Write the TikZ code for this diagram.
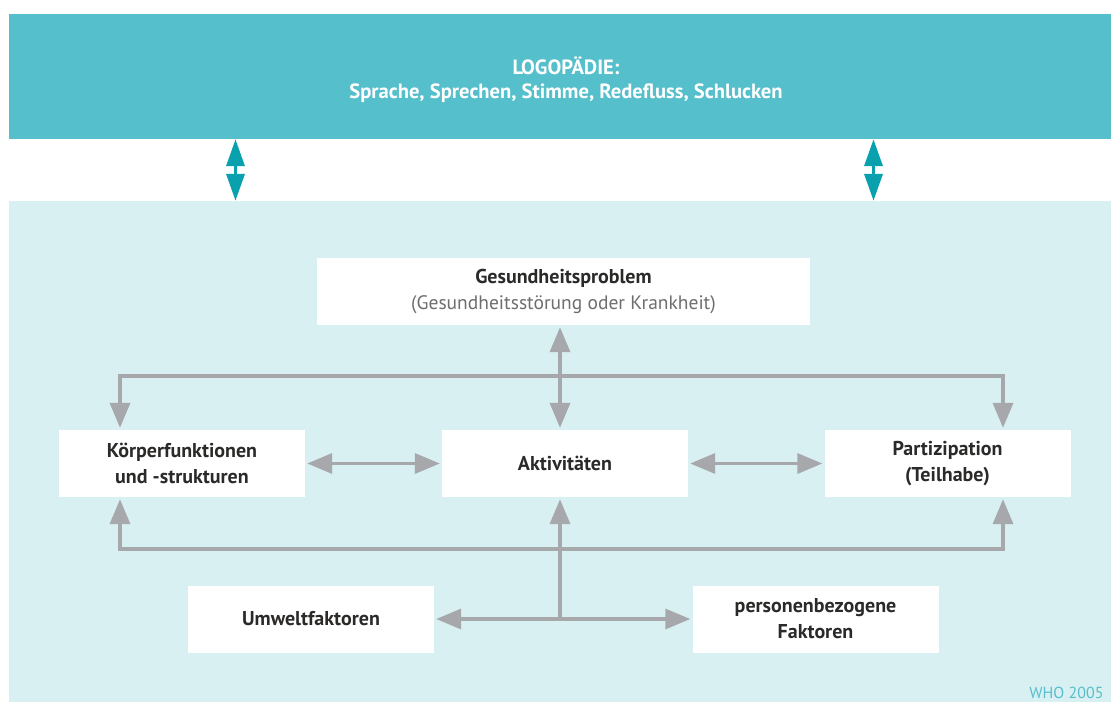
\documentclass[tikz,border=0pt]{standalone}
\usepackage{fontspec}
\setmainfont{PT Sans}
\usetikzlibrary{arrows.meta}
\definecolor{tealband}{HTML}{55BFCB}
\definecolor{lightband}{HTML}{D9F0F2}
\definecolor{tealarrow}{HTML}{0AA1AE}
\definecolor{conngray}{HTML}{A7A8AC}
\definecolor{darktext}{HTML}{2B2A29}
\definecolor{subgray}{HTML}{6D6E70}
\definecolor{whocol}{HTML}{55BFCB}
\begin{document}
\begin{tikzpicture}[x=1pt,y=-1pt,
  box/.style={fill=white, inner sep=0pt, align=center, text=darktext,
    font=\fontsize{20}{26}\selectfont\bfseries},
  bigbox/.style={box, minimum width=493pt, minimum height=67pt},
  midbox/.style={box, minimum width=246pt, minimum height=67pt},
  conn/.style={draw=conngray, line width=3.5pt,
    arrows={Triangle[length=25pt,width=20pt,fill=conngray]-Triangle[length=25pt,width=20pt,fill=conngray]},
    shorten <=2pt, shorten >=2pt},
  connone/.style={draw=conngray, line width=3.5pt,
    -{Triangle[length=25pt,width=20pt,fill=conngray]}, shorten >=2pt},
  tconn/.style={draw=tealarrow, line width=3.5pt,
    {Triangle[length=27pt,width=18pt]}-{Triangle[length=27pt,width=18pt]}}
]
\useasboundingbox (0,0) rectangle (1111,702);
\fill[white] (0,0) rectangle (1111,702);
\node[fill=tealband, inner sep=0pt, minimum width=1102pt, minimum height=125pt] (band) at (560,76.5) {};
\node[fill=lightband, inner sep=0pt, minimum width=1102pt, minimum height=501pt] (field) at (560,451.5) {};
\node[text=white, align=center, font=\fontsize{20.6}{24}\selectfont\bfseries] (logo) at (566,79.5)
  {LOGOPÄDIE:\\Sprache, Sprechen, Stimme, Redefluss, Schlucken};

\coordinate (a1) at (235.5,170);
\coordinate (a2) at (873.5,170);
\draw[tconn] (band.south -| a1) -- (field.north -| a1);
\draw[tconn] (band.south -| a2) -- (field.north -| a2);

\node[bigbox] (gp) at (563.5,291.5) {Gesundheitsproblem\\{\fontsize{19.5}{26}\selectfont\mdseries\color{subgray}(Gesundheitsstörung oder Krankheit)}};
\node[midbox] (koerper) at (182,463.5) {Körperfunktionen\\und -strukturen};
\node[midbox] (akt) at (565,463.5) {Aktivitäten};
\node[midbox] (part) at (947.5,463.5) {Partizipation\\(Teilhabe)};
\node[midbox] (umwelt) at (311,619) {Umweltfaktoren};
\node[midbox] (person) at (815.5,619) {personenbezogene\\Faktoren};

\node[anchor=base east, text=whocol, font=\fontsize{16}{18}\selectfont] (who) at (1107,698) {WHO 2005};

\coordinate (vx) at (560,0);
\coordinate (tl) at (120,376);
\coordinate (tr) at (1003,376);
\coordinate (bl) at (120,549);
\coordinate (br) at (1003,549);
\coordinate (hj) at (560,619);

\draw[conn] (gp.south -| vx) -- (akt.north -| vx);
\draw[conn] (koerper.north -| tl) -- (tl) -- (tr) -- (part.north -| tr);
\draw[conn] (koerper.south -| bl) -- (bl) -- (br) -- (part.south -| br);
\draw[conn] (koerper.east) -- (akt.west);
\draw[conn] (akt.east) -- (part.west);
\draw[conn] (umwelt.east) -- (person.west);
\draw[connone] (hj) -- (akt.south -| hj);
\end{tikzpicture}
\end{document}
